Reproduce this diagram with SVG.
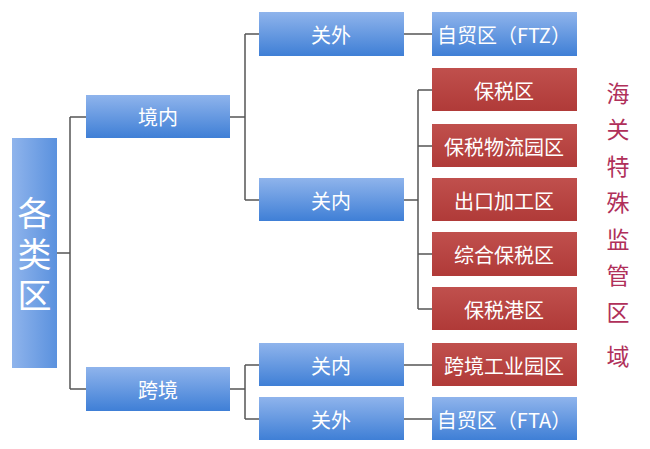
<svg xmlns="http://www.w3.org/2000/svg" width="650" height="449" viewBox="0 0 650 449">
<defs>
<linearGradient id="gb" x1="0" y1="0" x2="0" y2="1"><stop offset="0" stop-color="#8fb4ec"/><stop offset="1" stop-color="#3f7fd6"/></linearGradient>
<linearGradient id="gbv" x1="0" y1="0" x2="1" y2="0"><stop offset="0" stop-color="#8fb4ec"/><stop offset="1" stop-color="#5a91de"/></linearGradient>
<linearGradient id="gr" x1="0" y1="0" x2="0" y2="1"><stop offset="0" stop-color="#c0504d"/><stop offset="1" stop-color="#b03a38"/></linearGradient>
</defs>
<style>
.b{fill:url(#gb)}.r{fill:url(#gr)}
text{font-family:"Noto Sans CJK SC","Noto Sans",sans-serif;fill:#fff;text-anchor:middle;dominant-baseline:central}
.t{font-size:20px}.v{fill:#b0305a;font-size:23px}.g{font-size:34px;writing-mode:vertical-rl;letter-spacing:7px}
.c{stroke:#555;stroke-width:1.5;fill:none}
</style>
<rect width="650" height="449" fill="#fff"/>
<g id="connectors" class="c">
<path d="M57 253H70M70 117V389M70 117H86M70 389H86"/>
<path d="M230 117H245M245 34V200M245 34H259M245 200H259"/>
<path d="M230 389H245M245 365V419M245 365H259M245 419H259"/>
<path d="M404 34H432M404 365H432M404 419H432"/>
<path d="M404 200H418M418 90V309M418 90H432M418 146H432M418 254H432M418 309H432"/>
</g>
<g id="n0"><rect x="12" y="138" width="45" height="230" fill="url(#gbv)"/><text class="g" x="34.5" y="258">各类区</text></g>
<g id="n1"><rect class="b" x="86" y="95" width="144" height="43"/><text class="t" x="158" y="116">境内</text></g>
<g id="n2"><rect class="b" x="86" y="367" width="144" height="44"/><text class="t" x="158" y="389">跨境</text></g>
<g id="n3"><rect class="b" x="259" y="12" width="145" height="44"/><text class="t" x="331" y="34">关外</text></g>
<g id="n4"><rect class="b" x="259" y="178" width="145" height="43"/><text class="t" x="331" y="200">关内</text></g>
<g id="n5"><rect class="b" x="259" y="343" width="145" height="43"/><text class="t" x="331" y="365">关内</text></g>
<g id="n6"><rect class="b" x="259" y="397" width="145" height="43"/><text class="t" x="331" y="419">关外</text></g>
<g id="n7"><rect class="b" x="432" y="12" width="145" height="44"/><text class="t" x="504" y="34">自贸区（FTZ）</text></g>
<g id="n8"><rect class="r" x="432" y="68" width="145" height="43"/><text class="t" x="504" y="90">保税区</text></g>
<g id="n9"><rect class="r" x="432" y="124" width="145" height="43"/><text class="t" x="504" y="146">保税物流园区</text></g>
<g id="n10"><rect class="r" x="432" y="178" width="145" height="43"/><text class="t" x="504" y="200">出口加工区</text></g>
<g id="n11"><rect class="r" x="432" y="232" width="145" height="44"/><text class="t" x="504" y="254">综合保税区</text></g>
<g id="n12"><rect class="r" x="432" y="287" width="145" height="43"/><text class="t" x="504" y="309">保税港区</text></g>
<g id="n13"><rect class="r" x="432" y="343" width="145" height="43"/><text class="t" x="504" y="365">跨境工业园区</text></g>
<g id="n14"><rect class="b" x="432" y="397" width="145" height="43"/><text class="t" x="504" y="419">自贸区（FTA）</text></g>
<g id="label"><text class="v" x="618" y="92">海</text><text class="v" x="618" y="128">关</text><text class="v" x="618" y="165">特</text><text class="v" x="618" y="201">殊</text><text class="v" x="618" y="238">监</text><text class="v" x="618" y="274">管</text><text class="v" x="618" y="311">区</text><text class="v" x="618" y="355">域</text></g>
</svg>
